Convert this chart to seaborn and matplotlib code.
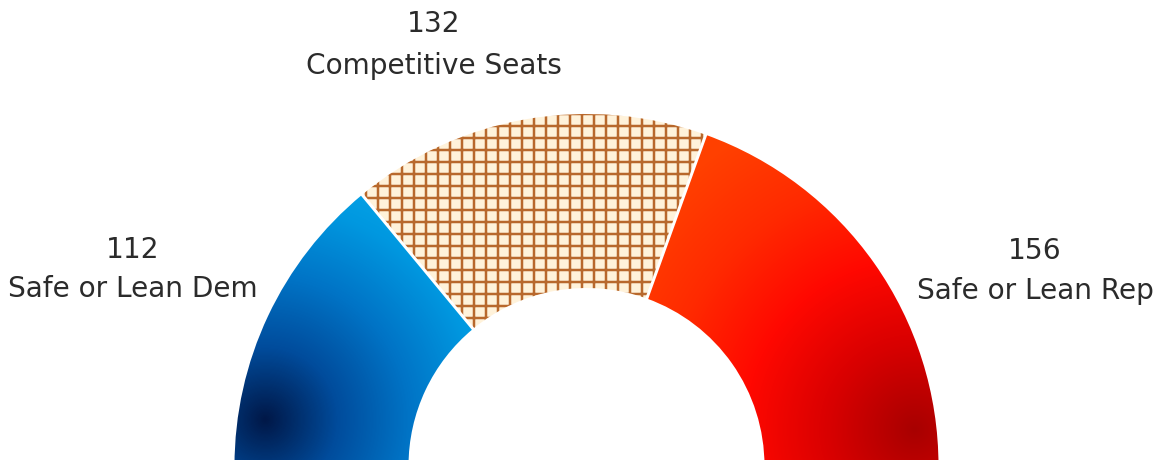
import numpy as np
import matplotlib
matplotlib.use("Agg")
import matplotlib.pyplot as plt
from matplotlib.patches import Wedge
import seaborn as sns

# Data
categories = ["Safe or Lean Dem", "Competitive Seats", "Safe or Lean Rep"]
seats = [112, 132, 156]

sns.set_theme(style="white")
plt.rcParams['font.family'] = ['DejaVu Sans']
plt.rcParams['hatch.linewidth'] = 2.5

W, H, DPI = 1158, 460, 72
fig = plt.figure(figsize=(W / DPI, H / DPI), dpi=DPI)
ax = fig.add_axes([0, 0, 1, 1])

# geometry in pixel-like data units (y up)
cx, cy = 586.5, -6
r_out, r_in = 352, 178

total = sum(seats)
spans = [v / total * 180 for v in seats]
ends = 180 - np.cumsum([0] + spans)

# gradient colormaps
blue_cmap = sns.blend_palette(["#001848", "#004C9C", "#0074C6", "#0098E0", "#0AACEC"], as_cmap=True)
red_cmap = sns.blend_palette(["#A80000", "#D80000", "#FF0800", "#FF2A00", "#FF4000"], as_cmap=True)

xs = np.linspace(0, W, W)
ys = np.linspace(0, H, H)
XX, YY = np.meshgrid(xs, ys)


def gradient(cmap, spot, scale):
    d = np.hypot(XX - spot[0], YY - spot[1]) / scale
    return cmap(np.clip(d, 0, 1))


styles = [
    dict(kind="grad", cmap=blue_cmap, spot=(265, 40), scale=290),
    dict(kind="hatch"),
    dict(kind="grad", cmap=red_cmap, spot=(915, 30), scale=340),
]

for i, (cat, val) in enumerate(zip(categories, seats)):
    t2, t1 = ends[i], ends[i + 1]
    st = styles[i]
    if st["kind"] == "hatch":
        w = Wedge((cx, cy), r_out, t1, t2, width=r_out - r_in,
                  facecolor="#FFF2DA", edgecolor="#B8682C", hatch="+", linewidth=0)
        ax.add_patch(w)
    else:
        w = Wedge((cx, cy), r_out, t1, t2, width=r_out - r_in,
                  facecolor="none", edgecolor="none")
        ax.add_patch(w)
        im = ax.imshow(gradient(st["cmap"], st["spot"], st["scale"]),
                       extent=(0, W, 0, H), origin="lower", interpolation="bilinear")
        im.set_clip_path(w)

# white separators between segments
for ang in ends[1:-1]:
    a = np.deg2rad(ang)
    ax.plot([cx + (r_in - 2) * np.cos(a), cx + (r_out + 2) * np.cos(a)],
            [cy + (r_in - 2) * np.sin(a), cy + (r_out + 2) * np.sin(a)],
            color="white", linewidth=3, solid_capstyle="butt")

# labels (x, number baseline, label baseline) in pixel rows from top
label_pos = [(133, 258, 297), (434, 32, 74), (1035, 259, 299)]
for (x, yn, yl), cat, val in zip(label_pos, categories, seats):
    ax.text(x, H - yn, f"{val}", ha="center", va="baseline", fontsize=28, color="#2B2B2B")
    ax.text(x, H - yl, cat, ha="center", va="baseline", fontsize=28, color="#2B2B2B")

ax.set_xlim(0, W)
ax.set_ylim(0, H)
ax.set_aspect("auto")
ax.axis("off")
fig.savefig("out.png", dpi=DPI)
